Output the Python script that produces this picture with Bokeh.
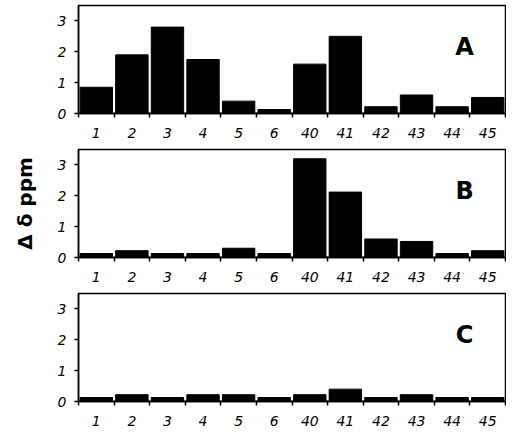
import math
from bokeh.plotting import figure
from bokeh.layouts import column
from bokeh.models import FixedTicker, Range1d, Label, ColumnDataSource
from bokeh.embed import file_html
from bokeh.resources import INLINE

residues = ["1", "2", "3", "4", "5", "6", "40", "41", "42", "43", "44", "45"]
panel_names = ["A", "B", "C"]
values_A = [0.85, 1.9, 2.8, 1.75, 0.4, 0.13, 1.6, 2.5, 0.22, 0.6, 0.22, 0.52]
values_B = [0.13, 0.22, 0.13, 0.13, 0.3, 0.13, 3.2, 2.12, 0.6, 0.52, 0.13, 0.22]
values_C = [0.13, 0.22, 0.13, 0.22, 0.22, 0.13, 0.22, 0.4, 0.13, 0.22, 0.13, 0.13]
y_ticks = [0, 1, 2, 3]
y_max = 3.5
y_label = "Δ δ ppm"

FONT = "DejaVu Sans"
xs = list(range(len(residues)))
bounds = [i - 0.5 for i in range(len(residues) + 1)]

def make_panel(vals, name, height, top, bottom):
    p = figure(width=506, height=height, output_backend="svg", toolbar_location=None,
               x_range=Range1d(-0.5, len(residues) - 0.5), y_range=Range1d(0, y_max),
               min_border_left=78, min_border_right=1, min_border_top=top,
               min_border_bottom=bottom)
    src = ColumnDataSource(dict(x=xs, top=vals))
    p.vbar(x="x", top="top", bottom=0, width=0.91, source=src,
           fill_color="black", line_color="black", line_width=1)
    p.grid.visible = False
    p.outline_line_color = "black"
    p.outline_line_width = 1.5
    p.background_fill_color = "white"
    p.border_fill_color = "white"
    # x axis
    xa = p.xaxis[0]
    xa.ticker = FixedTicker(ticks=xs, minor_ticks=bounds)
    xa.major_label_overrides = {i: r for i, r in enumerate(residues)}
    xa.major_tick_line_color = None
    xa.minor_tick_line_color = "black"
    xa.minor_tick_line_width = 1.5
    xa.minor_tick_out = 4
    xa.minor_tick_in = 1
    xa.axis_line_width = 1.5
    xa.major_label_standoff = 8
    xa.major_label_text_font = FONT
    xa.major_label_text_font_style = "italic"
    xa.major_label_text_font_size = "14px"
    xa.major_label_text_color = "black"
    # y axis
    ya = p.yaxis[0]
    ya.ticker = FixedTicker(ticks=y_ticks, minor_ticks=[])
    ya.major_tick_out = 4
    ya.major_tick_in = 0
    ya.major_tick_line_width = 1.5
    ya.axis_line_width = 1.5
    ya.major_label_standoff = 8
    ya.major_label_text_font = FONT
    ya.major_label_text_font_style = "italic"
    ya.major_label_text_font_size = "14px"
    ya.major_label_text_color = "black"
    p.add_layout(Label(x=len(residues) - 1.65, y=2.15, text=name, text_font=FONT,
                       text_font_style="bold", text_font_size="24px",
                       text_align="center", text_baseline="middle", text_color="black"))
    return p

pA = make_panel(values_A, panel_names[0], 144, 5, 31)
pB = make_panel(values_B, panel_names[1], 144, 5, 31)
pC = make_panel(values_C, panel_names[2], 142, 5, 29)

yb = pB.yaxis[0]
yb.axis_label = y_label
yb.axis_label_text_font = FONT
yb.axis_label_text_font_style = "bold"
yb.axis_label_text_font_size = "20px"
yb.axis_label_text_color = "black"
yb.axis_label_standoff = 18

layout = column(pA, pB, pC, spacing=0)
open("out.html", "w").write(file_html(layout, INLINE))
